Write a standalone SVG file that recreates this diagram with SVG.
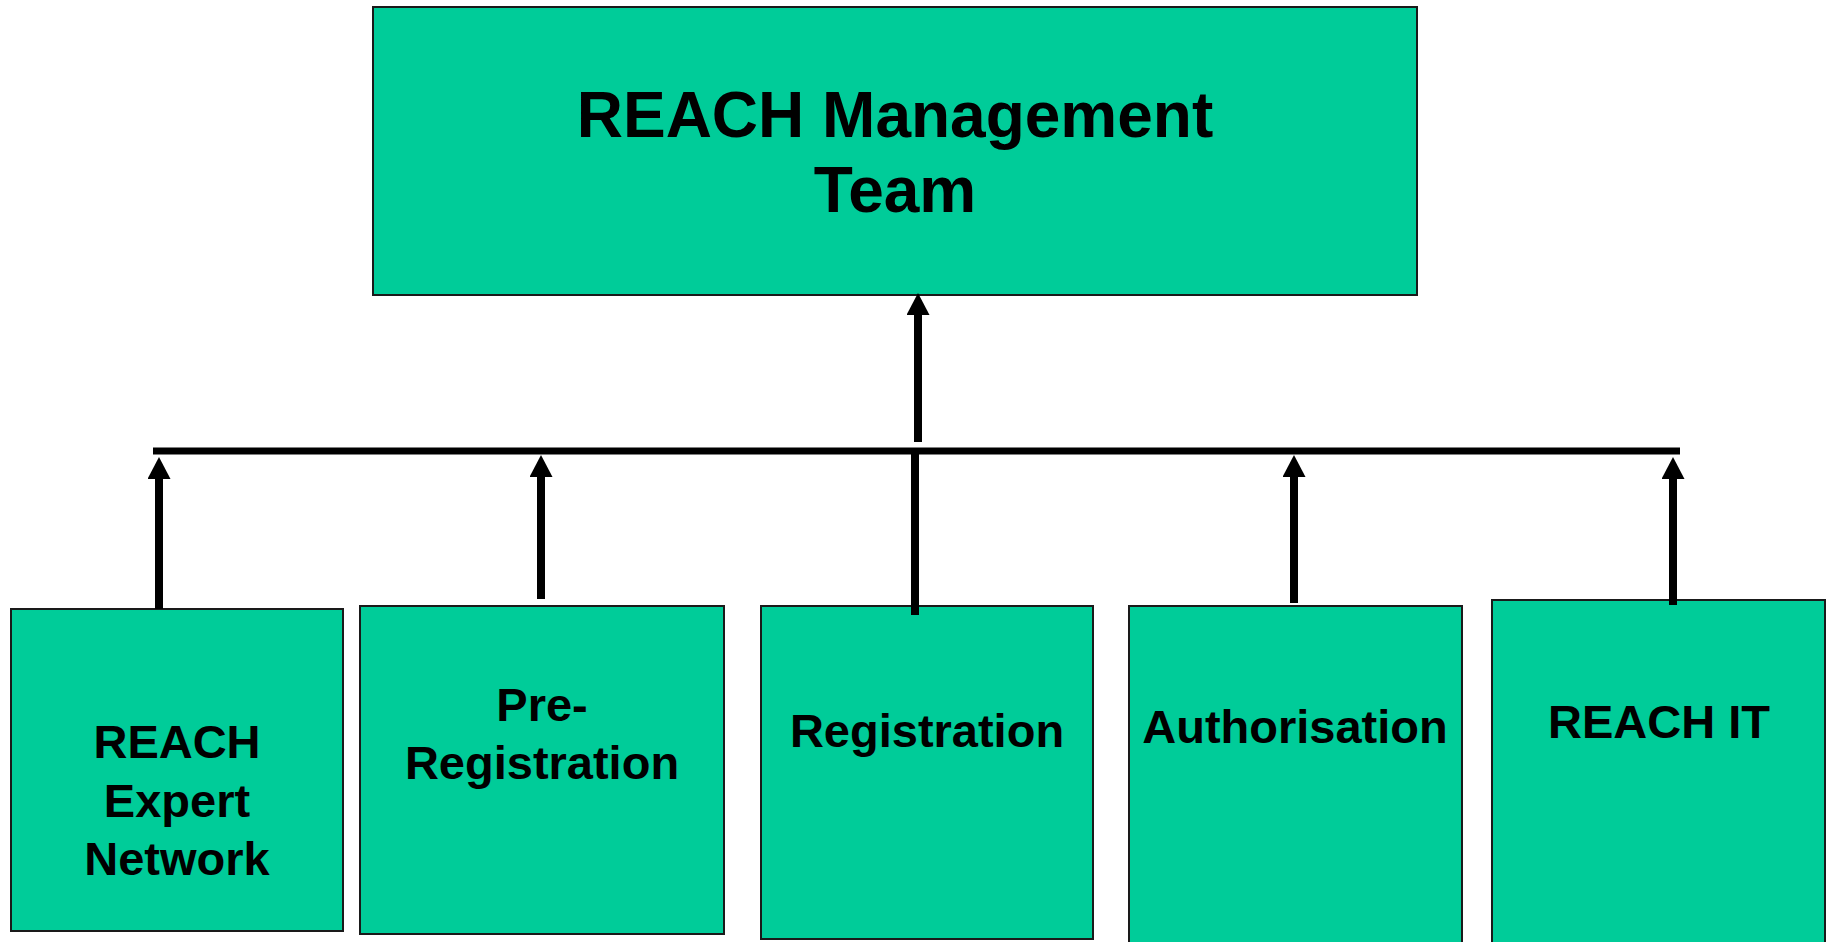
<svg xmlns="http://www.w3.org/2000/svg" width="1828" height="942" viewBox="0 0 1828 942">
<style>
.box{fill:#00CC99;stroke:#1a1a1a;stroke-width:2}
.lbl{font-family:"Liberation Sans",Arial,sans-serif;font-weight:bold;fill:#000;text-anchor:middle}
.big{font-size:64px}
.sm{font-size:47px}
.conn{stroke:#000;stroke-width:8;fill:none}
.bar{stroke:#000;stroke-width:7;fill:none}
</style>
<defs>
<marker id="ah" viewBox="0 0 22 23" markerUnits="userSpaceOnUse" markerWidth="22" markerHeight="23" refX="1" refY="11.5" orient="auto">
<path d="M0,0 L22,11.5 L0,23 Z" fill="#000"/>
</marker>
</defs>
<rect width="1828" height="942" fill="#fff"/>
<g id="mgmt">
<rect class="box" x="373" y="7" width="1044" height="288"/>
<text class="lbl big" x="895" y="137">REACH Management</text>
<text class="lbl big" x="895" y="212">Team</text>
</g>
<g id="expert">
<rect class="box" x="11" y="609" width="332" height="322"/>
<text class="lbl sm" x="177" y="758">REACH</text>
<text class="lbl sm" x="177" y="817">Expert</text>
<text class="lbl sm" x="177" y="875">Network</text>
</g>
<g id="prereg">
<rect class="box" x="360" y="606" width="364" height="328"/>
<text class="lbl sm" x="542" y="721">Pre-</text>
<text class="lbl sm" x="542" y="779">Registration</text>
</g>
<g id="registration">
<rect class="box" x="761" y="606" width="332" height="333"/>
<text class="lbl sm" x="927" y="747">Registration</text>
</g>
<g id="authorisation">
<rect class="box" x="1129" y="606" width="333" height="340"/>
<text class="lbl sm" x="1295" y="743">Authorisation</text>
</g>
<g id="reachit">
<rect class="box" x="1492" y="600" width="333" height="346"/>
<text class="lbl sm" x="1659" y="738">REACH IT</text>
</g>
<g id="connectors">
<line class="bar" x1="153" y1="451" x2="1680" y2="451"/>
<line class="conn" x1="918" y1="442" x2="918" y2="314" marker-end="url(#ah)"/>
<line class="conn" x1="159" y1="609" x2="159" y2="478" marker-end="url(#ah)"/>
<line class="conn" x1="541" y1="599" x2="541" y2="476" marker-end="url(#ah)"/>
<line class="conn" x1="915" y1="451" x2="915" y2="615"/>
<line class="conn" x1="1294" y1="603" x2="1294" y2="476" marker-end="url(#ah)"/>
<line class="conn" x1="1673" y1="605" x2="1673" y2="478" marker-end="url(#ah)"/>
</g>
</svg>
